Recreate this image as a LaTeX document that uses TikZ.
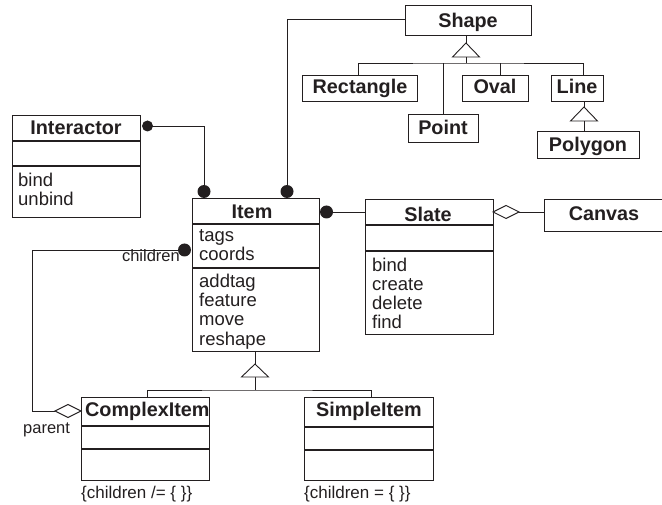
\documentclass[tikz,border=0pt]{standalone}
\usepackage{fontspec}
\setmainfont{Liberation Sans}
\usetikzlibrary{calc}
\definecolor{ink}{RGB}{35,31,32}
\begin{document}
\begin{tikzpicture}[x=1pt,y=-1pt, line join=miter,
  box/.style={draw=ink, line width=0.9pt, inner sep=0pt, anchor=north west},
  title/.style={text=ink, font=\bfseries\fontsize{19.8}{22}\selectfont, inner sep=0pt, anchor=base},
  member/.style={text=ink, font=\fontsize{18.5}{19}\selectfont, inner sep=0pt, anchor=base west},
  note/.style={text=ink, font=\fontsize{16.5}{18}\selectfont, inner sep=0pt},
  divider/.style={draw=ink, line width=1.8pt},
  link/.style={draw=ink, line width=0.9pt},
  dot/.style={fill=ink, draw=none},
  hollow/.style={draw=ink, fill=white, line width=0.9pt}]

\useasboundingbox (0,0) rectangle (662,505);

% ---------- shape hierarchy ----------
\node[box, minimum width=126pt, minimum height=30pt] (shape) at (405,5) {};
\node[title] (shapeT) at (468,28) {Shape};
\node[box, minimum width=115pt, minimum height=26pt] (rect) at (302,75) {};
\node[title] (rectT) at (360,94) {Rectangle};
\node[box, minimum width=70pt, minimum height=28pt] (point) at (408,114) {};
\node[title] (pointT) at (443,135) {Point};
\node[box, minimum width=66pt, minimum height=26pt] (oval) at (462,75) {};
\node[title] (ovalT) at (495,94) {Oval};
\node[box, minimum width=52pt, minimum height=26pt] (line) at (551,75) {};
\node[title] (lineT) at (577,94) {Line};
\node[box, minimum width=102pt, minimum height=27pt] (poly) at (537,131) {};
\node[title] (polyT) at (588,152) {Polygon};

% generalization Shape <- subclasses
\coordinate (shTip) at (466,35);
\coordinate (shBase) at (466,57);
\coordinate (shBar) at (466,63);
\draw[link] (shBase) -- (shBar);
\draw[link] (rect.north -| 358,0) |- (shBar) -| (line.north -| 583,0);
\draw[link] (point.north) -- (point.north |- shBar);
\draw[link] (oval.north -| 500,0) -- (500,63);
\draw[hollow] ($(shTip)+(0,8)$) -- ($(shBase)+(-13.5,0)$) -- ($(shBase)+(13.5,0)$) -- cycle;
\draw[link] (shape.south -| shTip) -- ($(shTip)+(0,8)$);

% generalization Line <- Polygon
\coordinate (lnTip) at (584,107);
\coordinate (lnBase) at (584,121);
\draw[link] (line.south -| lnTip) -- (lnTip);
\draw[link] (lnBase) -- (poly.north -| lnBase);
\draw[hollow] (lnTip) -- ($(lnBase)+(-13.5,0)$) -- ($(lnBase)+(13.5,0)$) -- cycle;

% ---------- Interactor ----------
\node[box, minimum width=128pt, minimum height=102pt] (inter) at (12,115) {};
\node[title] (interT) at (76,135) {Interactor};
\draw[divider] (inter.west |- 0,141) -- (inter.east |- 0,141);
\draw[divider] (inter.west |- 0,166) -- (inter.east |- 0,166);
\node[member] (interM1) at (18,187) {bind};
\node[member] (interM2) at (18,206) {unbind};

% ---------- Item ----------
\node[box, minimum width=127pt, minimum height=153pt] (item) at (192,198) {};
\node[title] (itemT) at (252,219) {Item};
\draw[divider] (item.west |- 0,224) -- (item.east |- 0,224);
\draw[divider] (item.west |- 0,268) -- (item.east |- 0,268);
\foreach \t [count=\i from 0] in {tags,coords}
  \node[member] (itemA\i) at (199,242+19*\i) {\t};
\foreach \t [count=\i from 0] in {addtag,feature,move,reshape}
  \node[member] (itemM\i) at (199,288+19*\i) {\t};

% ---------- Slate ----------
\node[box, minimum width=128pt, minimum height=135pt] (slate) at (365,199) {};
\node[title] (slateT) at (428,222) {Slate};
\draw[divider] (slate.west |- 0,225) -- (slate.east |- 0,225);
\draw[divider] (slate.west |- 0,251) -- (slate.east |- 0,251);
\foreach \t [count=\i from 0] in {bind,create,delete,find}
  \node[member] (slateM\i) at (372,272+19*\i) {\t};

% ---------- Canvas ----------
\node[box, minimum width=118pt, minimum height=32pt] (canvas) at (544,199) {};
\node[title] (canvasT) at (604,221) {Canvas};

% ---------- ComplexItem / SimpleItem ----------
\node[box, minimum width=128pt, minimum height=83pt] (cplx) at (81,397) {};
\node[title, anchor=base west] (cplxT) at (85,417) {ComplexItem};
\draw[divider] (cplx.west |- 0,426) -- (cplx.east |- 0,426);
\draw[divider] (cplx.west |- 0,449) -- (cplx.east |- 0,449);
\node[box, minimum width=129pt, minimum height=83pt] (simple) at (304,397) {};
\node[title] (simpleT) at (369,417) {SimpleItem};
\draw[divider] (simple.west |- 0,427) -- (simple.east |- 0,427);
\draw[divider] (simple.west |- 0,450) -- (simple.east |- 0,450);

\node[note, anchor=base west, font=\fontsize{17}{19}\selectfont] (cplxC) at (81,498) {\{children /= \{ \}\}};
\node[note, anchor=base west, font=\fontsize{17}{19}\selectfont] (simpleC) at (304,498) {\{children = \{ \}\}};

% ---------- associations ----------
% Shape -- Item
\coordinate (shapeJ) at (287,191.5);
\draw[link] (shape.west |- 0,19) -| (shapeJ);
\fill[dot] (shapeJ) circle (6.5);

% Interactor -- Item
\coordinate (interD) at (147.5,126);
\coordinate (interJ) at (204,191.5);
\draw[link] (interD) -| (interJ);
\fill[dot] (interD) circle (5.5);
\fill[dot] (interJ) circle (6.5);

% Item -- Slate
\coordinate (slateD) at (326.5,212);
\draw[link] (slateD) -- (slate.west |- slateD);
\fill[dot] (slateD) circle (6.5);

% Slate <>-- Canvas
\coordinate (canvasD) at (493,212);
\draw[link] ($(canvasD)+(26,0)$) -- (canvas.west |- canvasD);
\draw[hollow] (canvasD) -- ++(13,-6.5) -- ++(13,6.5) -- ++(-13,6.5) -- cycle;

% children / parent self-association
\coordinate (childD) at (184.5,250);
\coordinate (bend1) at (32,250);
\coordinate (parD) at (81,411);
\draw[link] (childD) -- (bend1) |- ($(parD)+(-26,0)$);
\fill[dot] (childD) circle (6.5);
\draw[hollow] (parD) -- ++(-13,-6.5) -- ++(-13,6.5) -- ++(13,6.5) -- cycle;
\node[note, anchor=base east] (childL) at (180,262) {children};
\node[note, anchor=base west] (parL) at (23,433) {parent};

% generalization Item <- ComplexItem, SimpleItem
\coordinate (itTip) at (item.south -| 255,0);
\coordinate (itApex) at (255,364);
\coordinate (itBase) at (255,377);
\coordinate (itBar) at (255,390);
\draw[link] (item.south -| itApex) -- (itApex);
\draw[link] (itBase) -- (itBar);
\draw[link] (cplx.north -| 147,0) |- (itBar) -| (simple.north -| 371,0);
\draw[hollow] (itApex) -- ($(itBase)+(-13.5,0)$) -- ($(itBase)+(13.5,0)$) -- cycle;
\end{tikzpicture}
\end{document}
